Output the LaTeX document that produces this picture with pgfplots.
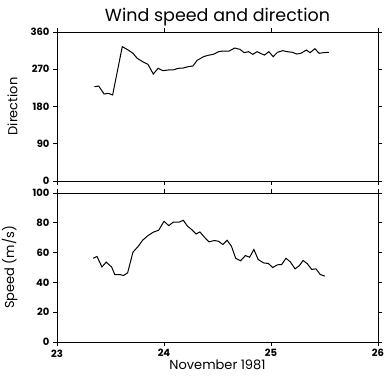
\documentclass[border=0pt]{standalone}
\usepackage{pgfplots}
\pgfplotsset{compat=1.18}
\usepackage{fontspec}
\setmainfont{Poppins}

\begin{document}
\begin{tikzpicture}
\useasboundingbox (-57pt,-42pt) rectangle (327pt,342pt);
\pgfplotsset{
  panel/.style={
    scale only axis,
    width=321pt, height=149pt,
    xmin=23, xmax=26,
    xtick={23,24,25,26},
    tick align=outside,
    major tick length=4pt,
    axis line style={line width=0.9pt},
    every tick/.style={line width=0.9pt, black},
    /pgf/number format/assume math mode=true,
    tick label style={font=\fontsize{10}{11}\selectfont\bfseries},
    every axis y label/.style={
      at={(axis description cs:-0.112,0.5)}, rotate=90, anchor=south,
      font=\fontsize{13}{15}\selectfont},
    xlabel style={font=\fontsize{13}{15}\selectfont},
  }
}
% Upper panel: wind direction in degrees
\begin{axis}[panel,
  at={(0,161pt)}, anchor=south west,
  ymin=0, ymax=360, ytick={0,90,180,270,360},
  xticklabels={},
  ylabel={Direction},
  title={Wind speed and direction},
  title style={font=\fontsize{17.5}{20}\selectfont, yshift=-4pt},
]
\addplot[black, line width=1pt] coordinates {
(23.35,227.9) (23.39,229.5) (23.44,210.2) (23.48,211.8) (23.52,207.8)
(23.61,324.6) (23.665,316.5) (23.71,308.5) (23.75,296.4) (23.80,288.3)
(23.85,281.9) (23.90,258.5) (23.945,272.2) (23.99,266.6) (24.04,268.2)
(24.086,268.2) (24.13,272.2) (24.18,273.0) (24.225,276.2) (24.27,277.8)
(24.31,291.5) (24.37,300.4) (24.41,303.6) (24.46,306.0) (24.51,312.5)
(24.55,314.1) (24.61,314.1) (24.66,321.3) (24.71,318.1) (24.75,310.1)
(24.79,312.5) (24.83,306.0) (24.87,312.5) (24.90,308.5) (24.94,304.4)
(24.98,312.5) (25.02,300.4) (25.06,310.9) (25.11,314.9) (25.15,312.5)
(25.20,310.9) (25.24,306.8) (25.28,308.5) (25.33,316.5) (25.365,310.1)
(25.41,319.7) (25.45,308.5) (25.49,310.1) (25.54,310.9)
};
\end{axis}
% Lower panel: wind speed
\begin{axis}[panel,
  at={(0,0)}, anchor=south west,
  ymin=0, ymax=100, ytick={0,20,40,60,80,100},
  ylabel={Speed (m/s)},
  xlabel={November 1981},
  xlabel style={yshift=4pt},
]
\addplot[black, line width=1pt] coordinates {
(23.337,56.2) (23.374,57.4) (23.42,50.4) (23.46,53.6) (23.51,50.4)
(23.54,45.3) (23.587,45.3) (23.62,44.6) (23.66,46.4) (23.71,60.3)
(23.76,64.3) (23.80,68.3) (23.85,71.4) (23.90,73.7) (23.95,75.0)
(24.00,81.0) (24.045,78.1) (24.086,80.4) (24.14,80.4) (24.18,81.7)
(24.22,77.7) (24.26,75.4) (24.30,72.5) (24.335,73.9) (24.376,70.5)
(24.42,67.2) (24.47,68.1) (24.51,67.6) (24.55,65.4) (24.59,68.3)
(24.63,64.3) (24.67,56.2) (24.716,54.5) (24.76,58.0) (24.80,56.9)
(24.84,62.1) (24.88,55.4) (24.93,53.1) (24.975,52.7) (25.016,50.0)
(25.06,51.8) (25.10,52.0) (25.14,56.2) (25.18,53.8) (25.225,49.1)
(25.265,51.3) (25.30,54.7) (25.34,52.5) (25.38,48.7) (25.42,49.1)
(25.46,45.3) (25.505,44.2)
};
\end{axis}
\end{tikzpicture}
\end{document}
